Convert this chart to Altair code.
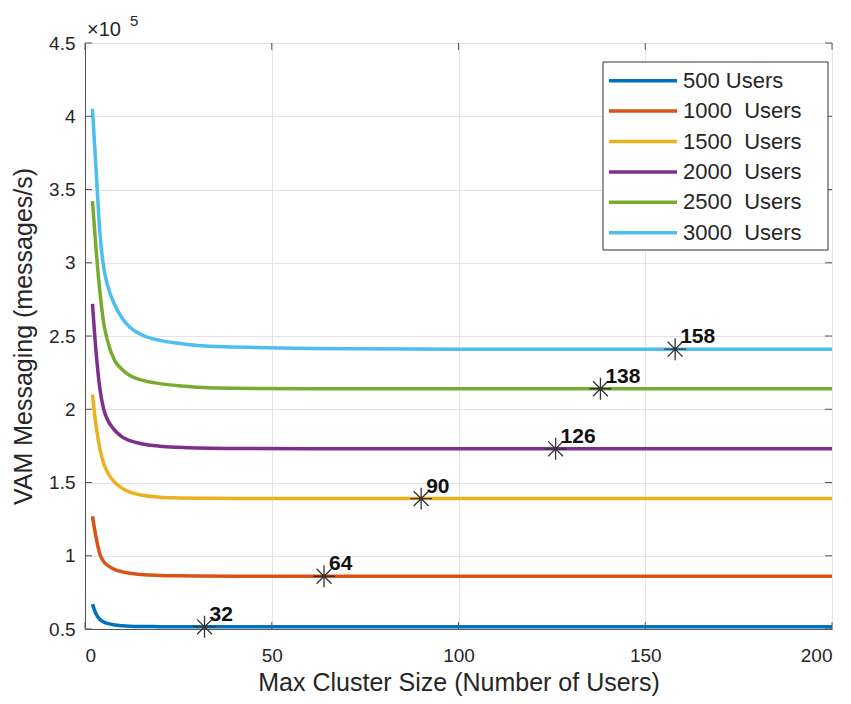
import altair as alt
import pandas as pd

# Max cluster size (number of users) at which each curve is sampled
cluster_size = [2, 3, 4, 5, 6, 8, 10, 12, 15, 20, 25, 30, 40, 60, 100, 150, 200]

# VAM messaging rate, in units of 1e5 messages/s
vam_500 = [0.67, 0.60, 0.565, 0.548, 0.538, 0.527, 0.522, 0.519, 0.517, 0.516,
           0.515, 0.515, 0.515, 0.515, 0.515, 0.515, 0.515]
vam_1000 = [1.27, 1.12, 1.01, 0.96, 0.935, 0.905, 0.89, 0.88, 0.872, 0.866,
            0.863, 0.861, 0.86, 0.86, 0.86, 0.86, 0.86]
vam_1500 = [2.10, 1.88, 1.73, 1.63, 1.57, 1.50, 1.46, 1.435, 1.415, 1.40,
            1.395, 1.392, 1.39, 1.39, 1.39, 1.39, 1.39]
vam_2000 = [2.72, 2.38, 2.14, 2.00, 1.93, 1.855, 1.81, 1.785, 1.765, 1.748,
            1.74, 1.735, 1.732, 1.73, 1.73, 1.73, 1.73]
vam_2500 = [3.42, 3.08, 2.80, 2.59, 2.47, 2.33, 2.27, 2.23, 2.20, 2.175,
            2.16, 2.15, 2.143, 2.14, 2.14, 2.14, 2.14]
vam_3000 = [4.05, 3.62, 3.20, 2.97, 2.85, 2.71, 2.62, 2.56, 2.51, 2.47,
            2.45, 2.435, 2.425, 2.415, 2.41, 2.41, 2.41]

legend_labels = ["500 Users", "1000\u00a0 Users", "1500\u00a0 Users",
                 "2000\u00a0 Users", "2500\u00a0 Users", "3000\u00a0 Users"]
series_colors = ["#0072BD", "#D95319", "#EDB120", "#7E2F8E", "#77AC30", "#4DBEEE"]

# Optimal max cluster size marked on each curve
opt_size = [32, 64, 90, 126, 138, 158]
opt_rate = [0.515, 0.86, 1.39, 1.73, 2.14, 2.41]

x_ticks = [0, 50, 100, 150, 200]
y_ticks = [0.5, 1, 1.5, 2, 2.5, 3, 3.5, 4, 4.5]

FONT = "Liberation Sans"
TEXT = "#262626"
AXIS = "#555555"
W, H = 747, 586

series = [vam_500, vam_1000, vam_1500, vam_2000, vam_2500, vam_3000]
rows = []
for order, (label, values) in enumerate(zip(legend_labels, series)):
    for size, rate in zip(cluster_size, values):
        rows.append({"size": size, "rate": rate, "series": label, "order": order})
curves = pd.DataFrame(rows)

optima = pd.DataFrame({"size": opt_size, "rate": opt_rate,
                       "label": [str(s) for s in opt_size]})

legend_df = pd.DataFrame({"label": legend_labels,
                          "row": list(range(len(legend_labels)))})
x_tick_df = pd.DataFrame({"size": x_ticks})
y_tick_df = pd.DataFrame({"rate": y_ticks})

x_scale = alt.Scale(domain=[0, 200], nice=False, zero=False)
y_scale = alt.Scale(domain=[0.5, 4.5], nice=False, zero=False)
color_scale = alt.Scale(domain=legend_labels, range=series_colors)

x_enc = alt.X("size:Q", scale=x_scale,
              axis=alt.Axis(values=x_ticks, title="Max Cluster Size (Number of Users)",
                            format="d", labelPadding=17, titlePadding=5,
                            labelFontSize=19, titleFontSize=25))
y_enc = alt.Y("rate:Q", scale=y_scale,
              axis=alt.Axis(values=y_ticks, title="VAM Messaging (messages/s)",
                            format=".1~f", labelPadding=10, titlePadding=12,
                            labelFontSize=19, titleFontSize=25))

lines = alt.Chart(curves).mark_line(strokeWidth=3.5, interpolate="monotone").encode(
    x=x_enc,
    y=y_enc,
    color=alt.Color("series:N", scale=color_scale, legend=None),
    order=alt.Order("order:Q"),
)

# Inward tick marks on all four sides of the axes box
tick_style = dict(color=AXIS, strokeWidth=1)
ticks_bottom = alt.Chart(x_tick_df).mark_rule(**tick_style).encode(
    x=alt.X("size:Q", scale=x_scale), y=alt.value(H), y2=alt.value(H - 7))
ticks_top = alt.Chart(x_tick_df).mark_rule(**tick_style).encode(
    x=alt.X("size:Q", scale=x_scale), y=alt.value(0), y2=alt.value(7))
ticks_left = alt.Chart(y_tick_df).mark_rule(**tick_style).encode(
    y=alt.Y("rate:Q", scale=y_scale), x=alt.value(0), x2=alt.value(7))
ticks_right = alt.Chart(y_tick_df).mark_rule(**tick_style).encode(
    y=alt.Y("rate:Q", scale=y_scale), x=alt.value(W), x2=alt.value(W - 7))

star = "M-1,0L1,0M0,-1L0,1M-0.68,-0.68L0.68,0.68M-0.68,0.68L0.68,-0.68"
markers = alt.Chart(optima).mark_point(
    shape=star, size=480, filled=False, stroke="#333333", strokeWidth=1.3, opacity=1
).encode(x=alt.X("size:Q", scale=x_scale), y=alt.Y("rate:Q", scale=y_scale))

marker_labels = alt.Chart(optima).mark_text(
    align="left", baseline="middle", dx=5, dy=-12, fontSize=21,
    fontWeight="bold", font=FONT, color="#111111"
).encode(x=alt.X("size:Q", scale=x_scale), y=alt.Y("rate:Q", scale=y_scale),
         text="label:N")

# ×10^5 exponent above the y axis
exp_base = alt.Chart(pd.DataFrame({"t": ["×10"]})).mark_text(
    align="left", baseline="alphabetic", fontSize=20, font=FONT, color=TEXT
).encode(x=alt.value(2), y=alt.value(-7), text="t:N")
exp_power = alt.Chart(pd.DataFrame({"t": ["5"]})).mark_text(
    align="left", baseline="alphabetic", fontSize=15, font=FONT, color=TEXT
).encode(x=alt.value(45), y=alt.value(-17), text="t:N")

plot = alt.layer(lines, ticks_bottom, ticks_top, ticks_left, ticks_right,
                 markers, marker_labels, exp_base, exp_power)

# Legend box in the upper-right corner
row_scale = alt.Scale(domain=[0, 5], range=[37.7, 189.7])
legend_box = alt.Chart(pd.DataFrame({"b": [0]})).mark_rect(
    fill="white", stroke="#333333", strokeWidth=1
).encode(x=alt.value(518), x2=alt.value(743), y=alt.value(19), y2=alt.value(207))
legend_lines = alt.Chart(legend_df).mark_rule(strokeWidth=3.5).encode(
    x=alt.value(524), x2=alt.value(592),
    y=alt.Y("row:Q", scale=row_scale, axis=None),
    color=alt.Color("label:N", scale=color_scale, legend=None),
)
legend_text = alt.Chart(legend_df).mark_text(
    align="left", baseline="middle", fontSize=22, font=FONT, color=TEXT
).encode(x=alt.value(598), y=alt.Y("row:Q", scale=row_scale, axis=None),
         text="label:N")
legend = alt.layer(legend_box, legend_lines, legend_text)

chart = alt.layer(plot, legend).resolve_scale(
    y="independent", color="independent"
).properties(
    width=W, height=H,
    padding={"left": 85, "top": 43, "right": 19, "bottom": 75},
    autosize=alt.AutoSizeParams(type="none"),
    background="white",
).configure_view(
    stroke=AXIS, strokeWidth=1
).configure_axis(
    labelFont=FONT, titleFont=FONT,
    labelColor=TEXT, titleColor=TEXT, titleFontWeight="normal",
    domainColor=AXIS, ticks=False,
    gridColor="#e4e4e4", gridWidth=1, grid=True,
)

chart.save("out.html", embed_options={"renderer": "svg", "actions": False})
